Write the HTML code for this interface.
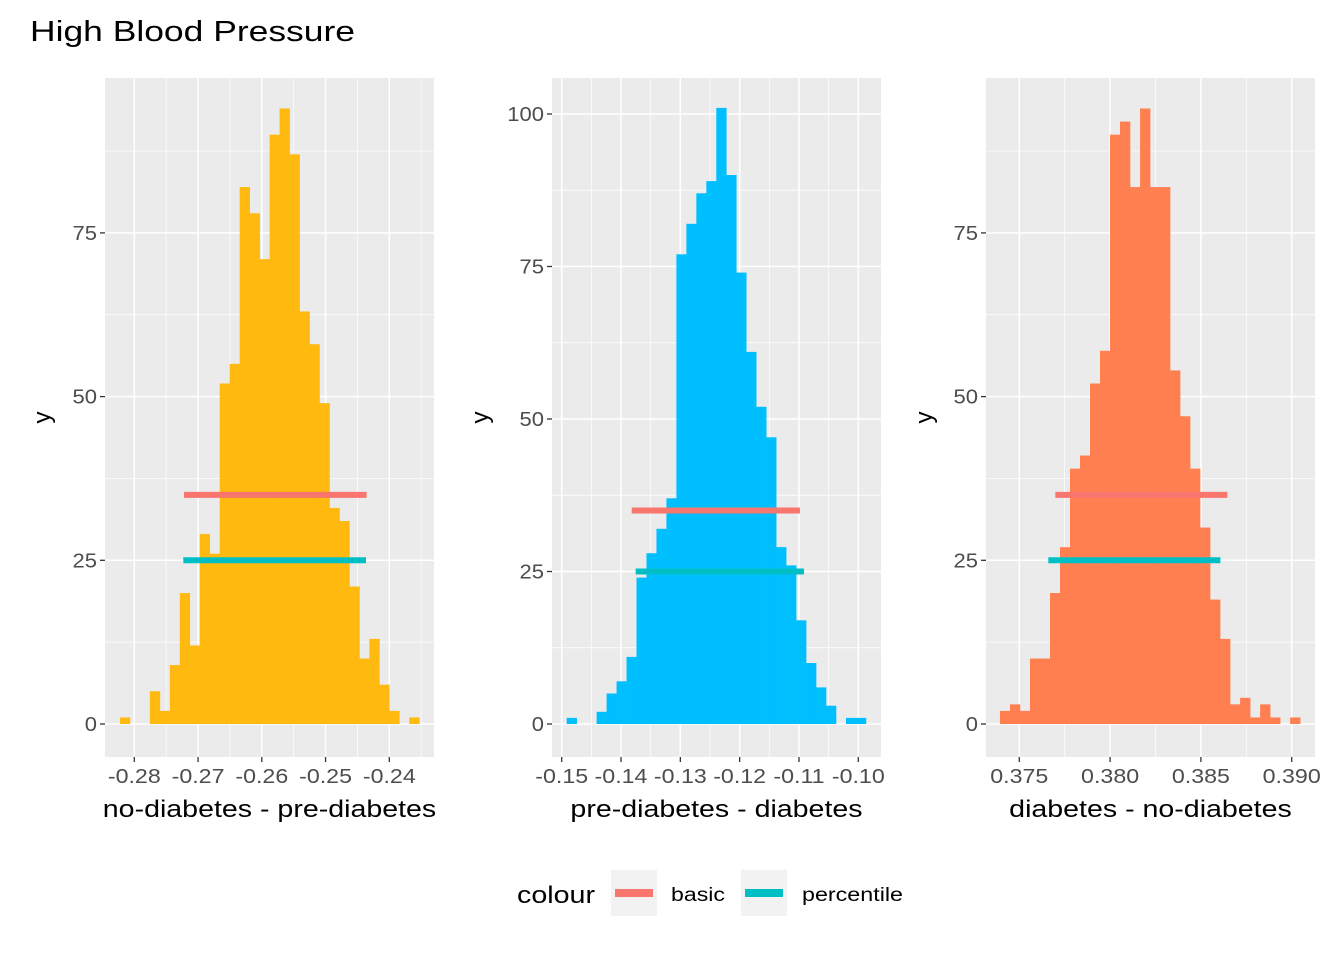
<!DOCTYPE html>
<html><head><meta charset="utf-8"><style>
body{margin:0;background:#fff;}
svg text{font-family:"Liberation Sans",sans-serif;}
</style></head><body>
<svg id="chart" width="1344" height="960" xmlns="http://www.w3.org/2000/svg">
<rect width="1344" height="960" fill="#fff"/>
<text class="w" x="30" y="41" font-size="29" fill="#000" textLength="325" lengthAdjust="spacingAndGlyphs">High Blood Pressure</text>
<g>
<text x="517" y="903" font-size="24" textLength="78" lengthAdjust="spacingAndGlyphs">colour</text>
<rect x="611" y="870" width="46" height="46" fill="#f2f2f2"/>
<rect x="615" y="889" width="38" height="8" fill="#F8766D"/>
<text x="671" y="901" font-size="19" textLength="54" lengthAdjust="spacingAndGlyphs">basic</text>
<rect x="741" y="870" width="46" height="46" fill="#f2f2f2"/>
<rect x="745" y="889" width="38" height="8" fill="#00BFC4"/>
<text x="802" y="901" font-size="19" textLength="101" lengthAdjust="spacingAndGlyphs">percentile</text>
</g>
</svg>
<script>
// Panel 1: no-diabetes - pre-diabetes
const p1Counts = [1,0,0,5,2,9,20,12,29,26,52,55,82,78,71,90,94,87,63,58,49,33,31,21,10,13,6,2,0,1];
const p1Start = -0.28225, p1Bin = 0.001565;
const p1Ticks = [-0.28,-0.27,-0.26,-0.25,-0.24];
const p1TickLabels = ["-0.28","-0.27","-0.26","-0.25","-0.24"];
const p1Basic = [-0.27221,-0.24356,35];
const p1Pct = [-0.27231,-0.24366,25];
// Panel 2: pre-diabetes - diabetes
const p2Counts = [1,0,0,2,5,7,11,24,28,32,37,77,82,87,89,101,90,74,61,52,47,29,26,17,10,6,3,0,1,1];
const p2Start = -0.14916, p2Bin = 0.0016815;
const p2Ticks = [-0.15,-0.14,-0.13,-0.12,-0.11,-0.10];
const p2TickLabels = ["-0.15","-0.14","-0.13","-0.12","-0.11","-0.10"];
const p2Basic = [-0.13820,-0.10983,35];
const p2Pct = [-0.13753,-0.10916,25];
// Panel 3: diabetes - no-diabetes
const p3Counts = [2,3,2,10,10,20,27,39,41,52,57,90,92,82,94,82,82,54,47,39,30,19,13,3,4,1,3,1,0,1];
const p3Start = 0.373935, p3Bin = 0.000551;
const p3Ticks = [0.375,0.380,0.385,0.390];
const p3TickLabels = ["0.375","0.380","0.385","0.390"];
const p3Basic = [0.376983,0.386458,35];
const p3Pct = [0.376598,0.386073,25];
const yTicks1 = [0,25,50,75];
const yTicks2 = [0,25,50,75,100];

const NS="http://www.w3.org/2000/svg";
const svg=document.getElementById('chart');
function mk(tag,attrs,parent){const e=document.createElementNS(NS,tag);for(const k in attrs)e.setAttribute(k,attrs[k]);(parent||svg).appendChild(e);return e;}
function widen(t,f){const w=t.getComputedTextLength();if(w>0){t.setAttribute('textLength',(w*f).toFixed(1));t.setAttribute('lengthAdjust','spacingAndGlyphs');}}

function panel(o){
  const g=mk('g',{});
  
  
  const X=v=>o.px0+(v-o.dx0)/(o.dx1-o.dx0)*(o.px1-o.px0);
  const Y=v=>o.py0+(v-o.dy0)/(o.dy1-o.dy0)*(o.py1-o.py0);
  const L=o.left,R=o.right,T=78,B=757;
  const bg=mk('rect',{x:L,y:T,width:R-L,height:B-T,fill:'#ebebeb'},g);
  
  
  const yt=o.yTicks;
  for(let i=0;i<yt.length;i++){const m=yt[i]+12.5;const yy=Y(m);if(yy>T)mk('line',{x1:L,x2:R,y1:yy,y2:yy,stroke:'#fff','stroke-width':0.7},g);}
  mk('line',{x1:L,x2:R,y1:Y(-12.5),y2:Y(-12.5),stroke:'#fff','stroke-width':0.7},g);
  const xt=o.xTicks;const step=xt[1]-xt[0];
  for(let i=-1;i<xt.length;i++){const m=xt[0]+step*(i+0.5);const xx=X(m);if(xx>L&&xx<R)mk('line',{x1:xx,x2:xx,y1:T,y2:B,stroke:'#fff','stroke-width':0.7},g);}
  yt.forEach(v=>mk('line',{x1:L,x2:R,y1:Y(v),y2:Y(v),stroke:'#fff','stroke-width':1.5},g));
  xt.forEach(v=>mk('line',{x1:X(v),x2:X(v),y1:T,y2:B,stroke:'#fff','stroke-width':1.5},g));
  o.counts.forEach((c,i)=>{if(c<=0)return;
    const x0=X(o.start+i*o.bin),x1=X(o.start+(i+1)*o.bin);
    const r=mk('rect',{x:x0,y:Y(c),width:x1-x0+0.3,height:Y(0)-Y(c),fill:o.fill},g);
    
    
  });
  const b=mk('line',{x1:X(o.basic[0]),x2:X(o.basic[1]),y1:Y(o.basic[2]),y2:Y(o.basic[2]),stroke:'#F8766D','stroke-width':6},g);
  
  
  const p=mk('line',{x1:X(o.pct[0]),x2:X(o.pct[1]),y1:Y(o.pct[2]),y2:Y(o.pct[2]),stroke:'#00BFC4','stroke-width':6},g);
  
  
  yt.forEach(v=>{mk('line',{x1:L-5,x2:L,y1:Y(v),y2:Y(v),stroke:'#333','stroke-width':1.3},g);
    const t=mk('text',{x:L-8,y:Y(v)+7,'text-anchor':'end','font-size':20,fill:'#4d4d4d'},g);t.textContent=v;
    
    widen(t,1.1);});
  xt.forEach((v,i)=>{mk('line',{x1:X(v),x2:X(v),y1:B,y2:B+5,stroke:'#333','stroke-width':1.3},g);
    const t=mk('text',{x:X(v),y:783,'text-anchor':'middle','font-size':20,fill:'#4d4d4d'},g);t.textContent=o.xLabels[i];
    
    widen(t,1.16);});
  const xt2=mk('text',{x:(L+R)/2,y:817,'text-anchor':'middle','font-size':24,fill:'#000'},g);xt2.textContent=o.xTitle;
  
  widen(xt2,1.19);
  const yt2=mk('text',{x:0,y:0,'text-anchor':'middle','font-size':24,fill:'#000',transform:`translate(${o.yTitleX},${(T+B)/2}) rotate(-90)`},g);yt2.textContent='y';
  
  
}
panel({name:'panel-no-diabetes-vs-pre-diabetes',left:105,right:434,px0:134.3,px1:389.3,dx0:-0.28,dx1:-0.24,py0:724,py1:560.3,dy0:0,dy1:25,
  yTicks:yTicks1,xTicks:p1Ticks,xLabels:p1TickLabels,counts:p1Counts,start:p1Start,bin:p1Bin,fill:'#FFB90F',basic:p1Basic,pct:p1Pct,xTitle:'no-diabetes - pre-diabetes',yTitleX:50});
panel({name:'panel-pre-diabetes-vs-diabetes',left:552,right:881,px0:561.7,px1:858.3,dx0:-0.15,dx1:-0.10,py0:724,py1:114,dy0:0,dy1:100,
  yTicks:yTicks2,xTicks:p2Ticks,xLabels:p2TickLabels,counts:p2Counts,start:p2Start,bin:p2Bin,fill:'#00BFFF',basic:p2Basic,pct:p2Pct,xTitle:'pre-diabetes - diabetes',yTitleX:488});
panel({name:'panel-diabetes-vs-no-diabetes',left:986,right:1315,px0:1019.3,px1:1291.7,dx0:0.375,dx1:0.390,py0:724,py1:560.3,dy0:0,dy1:25,
  yTicks:yTicks1,xTicks:p3Ticks,xLabels:p3TickLabels,counts:p3Counts,start:p3Start,bin:p3Bin,fill:'#FF7F50',basic:p3Basic,pct:p3Pct,xTitle:'diabetes - no-diabetes',yTitleX:932});
</script>
</body></html>
